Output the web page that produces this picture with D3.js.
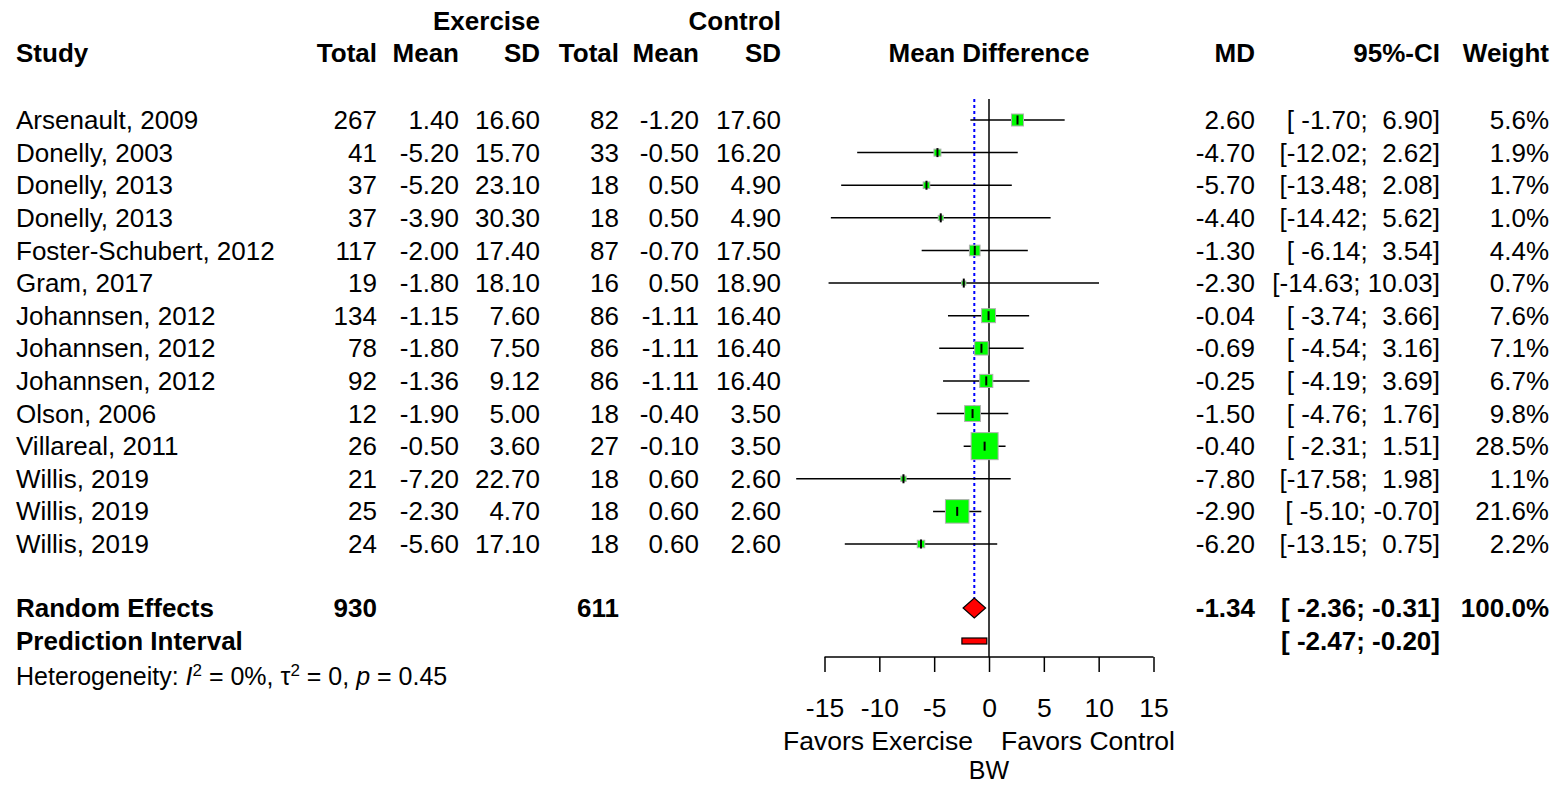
<!DOCTYPE html>
<html><head><meta charset="utf-8">
<script src="https://cdn.jsdelivr.net/npm/d3@7"></script>
<style>
body{margin:0;background:#fff;}
svg{font-family:"Liberation Sans",Arial,sans-serif;}
</style></head>
<body>
<svg id="chart" width="1558" height="785"></svg>
<script>
const studies = ["Arsenault, 2009","Donelly, 2003","Donelly, 2013","Donelly, 2013","Foster-Schubert, 2012","Gram, 2017","Johannsen, 2012","Johannsen, 2012","Johannsen, 2012","Olson, 2006","Villareal, 2011","Willis, 2019","Willis, 2019","Willis, 2019"];
const eTotal = [267,41,37,37,117,19,134,78,92,12,26,21,25,24];
const eMean = [1.40,-5.20,-5.20,-3.90,-2.00,-1.80,-1.15,-1.80,-1.36,-1.90,-0.50,-7.20,-2.30,-5.60];
const eSD = [16.60,15.70,23.10,30.30,17.40,18.10,7.60,7.50,9.12,5.00,3.60,22.70,4.70,17.10];
const cTotal = [82,33,18,18,87,16,86,86,86,18,27,18,18,18];
const cMean = [-1.20,-0.50,0.50,0.50,-0.70,0.50,-1.11,-1.11,-1.11,-0.40,-0.10,0.60,0.60,0.60];
const cSD = [17.60,16.20,4.90,4.90,17.50,18.90,16.40,16.40,16.40,3.50,3.50,2.60,2.60,2.60];
const md = [2.60,-4.70,-5.70,-4.40,-1.30,-2.30,-0.04,-0.69,-0.25,-1.50,-0.40,-7.80,-2.90,-6.20];
const lower = [-1.70,-12.02,-13.48,-14.42,-6.14,-14.63,-3.74,-4.54,-4.19,-4.76,-2.31,-17.58,-5.10,-13.15];
const upper = [6.90,2.62,2.08,5.62,3.54,10.03,3.66,3.16,3.69,1.76,1.51,1.98,-0.70,0.75];
const weight = [5.6,1.9,1.7,1.0,4.4,0.7,7.6,7.1,6.7,9.8,28.5,1.1,21.6,2.2];
const pooled = {label:"Random Effects", eTotal:930, cTotal:611, md:-1.34, lower:-2.36, upper:-0.31, weight:100.0};
const predInt = {label:"Prediction Interval", lower:-2.47, upper:-0.20};
const xTicks = [-15,-10,-5,0,5,10,15];

const svg = d3.select("#chart");
const x = d3.scaleLinear().domain([-15,15]).range([824.5,1153.5]);
const y = d3.scaleLinear().domain([0,studies.length-1]).range([120,544]);
const yRE = 608, yPI = 641;
const FS = 26;

const fmt2 = v => v.toFixed(2);
const ci = (l,u) => "[" + fmt2(l).padStart(6," ") + "; " + fmt2(u).padStart(5," ") + "]";

function txt(xp, yp, s, anchor, bold, size){
  return svg.append("text").attr("x",xp).attr("y",yp).attr("dy","0.35em")
    .attr("text-anchor",anchor||"start").attr("font-size",size||FS)
    .attr("font-weight",bold?"bold":"normal").attr("fill","#000")
    .style("white-space","pre").attr("xml:space","preserve").text(s);
}

// headers
txt(540,21,"Exercise","end",true);
txt(781,21,"Control","end",true);
const hy = 53;
txt(16,hy,"Study","start",true);
txt(377,hy,"Total","end",true);
txt(459,hy,"Mean","end",true);
txt(540,hy,"SD","end",true);
txt(619,hy,"Total","end",true);
txt(699,hy,"Mean","end",true);
txt(781,hy,"SD","end",true);
txt(x(0),hy,"Mean Difference","middle",true);
txt(1255,hy,"MD","end",true);
txt(1440,hy,"95%-CI","end",true);
txt(1549,hy,"Weight","end",true);

// study rows
studies.forEach((s,i)=>{
  const yy = y(i);
  txt(16,yy,s,"start");
  txt(377,yy,String(eTotal[i]),"end");
  txt(459,yy,fmt2(eMean[i]),"end");
  txt(540,yy,fmt2(eSD[i]),"end");
  txt(619,yy,String(cTotal[i]),"end");
  txt(699,yy,fmt2(cMean[i]),"end");
  txt(781,yy,fmt2(cSD[i]),"end");
  txt(1255,yy,fmt2(md[i]),"end");
  txt(1440,yy,ci(lower[i],upper[i]),"end");
  txt(1549,yy,weight[i].toFixed(1)+"%","end");
});

// pooled rows text
txt(16,yRE,pooled.label,"start",true);
txt(377,yRE,String(pooled.eTotal),"end",true);
txt(619,yRE,String(pooled.cTotal),"end",true);
txt(1255,yRE,fmt2(pooled.md),"end",true);
txt(1440,yRE,ci(pooled.lower,pooled.upper),"end",true);
txt(1549,yRE,pooled.weight.toFixed(1)+"%","end",true);
txt(16,yPI,predInt.label,"start",true);
txt(1440,yPI,ci(predInt.lower,predInt.upper),"end",true);

// heterogeneity
const het = svg.append("text").attr("x",16).attr("y",676).attr("dy","0.35em").attr("font-size",25).attr("fill","#000")
  .style("white-space","pre");
het.append("tspan").text("Heterogeneity: ");
het.append("tspan").attr("font-style","italic").text("I");
het.append("tspan").attr("font-size",17).attr("dy","-9").text("2");
het.append("tspan").attr("dy","9").text(" = 0%, τ");
het.append("tspan").attr("font-size",17).attr("dy","-9").text("2");
het.append("tspan").attr("dy","9").text(" = 0, ");
het.append("tspan").attr("font-style","italic").text("p");
het.append("tspan").text(" = 0.45");

// reference lines
const yTop = 99, yAxis = 657;
svg.append("line").attr("x1",x(0)).attr("x2",x(0)).attr("y1",yTop).attr("y2",yAxis)
  .attr("stroke","#000").attr("stroke-width",1.5);
svg.append("line").attr("x1",x(pooled.md)).attr("x2",x(pooled.md)).attr("y1",yTop).attr("y2",yRE-10)
  .attr("stroke","#0000ff").attr("stroke-width",2).attr("stroke-dasharray","3,3");

// CI lines, squares, ticks
const rows = studies.map((s,i)=>({i, md:md[i], lo:lower[i], hi:upper[i], w:weight[i]}));
svg.append("g").selectAll("line").data(rows).join("line")
  .attr("x1",d=>x(d.lo)).attr("x2",d=>x(d.hi)).attr("y1",d=>y(d.i)).attr("y2",d=>y(d.i))
  .attr("stroke","#000").attr("stroke-width",1.5);
const side = d => 5.06*Math.sqrt(d.w);
svg.append("g").selectAll("rect").data(rows).join("rect")
  .attr("x",d=>x(d.md)-side(d)/2).attr("y",d=>y(d.i)-side(d)/2)
  .attr("width",side).attr("height",side)
  .attr("fill","#00ff00").attr("stroke","#b0b0b0").attr("stroke-width",1);
svg.append("g").selectAll("line").data(rows).join("line")
  .attr("x1",d=>x(d.md)).attr("x2",d=>x(d.md)).attr("y1",d=>y(d.i)-4.5).attr("y2",d=>y(d.i)+4.5)
  .attr("stroke","#000").attr("stroke-width",2);

// diamond
const dh = 10;
svg.append("path").attr("d",`M${x(pooled.lower)},${yRE}L${x(pooled.md)},${yRE-dh}L${x(pooled.upper)},${yRE}L${x(pooled.md)},${yRE+dh}Z`)
  .attr("fill","#ff0000").attr("stroke","#000").attr("stroke-width",1.2);
// prediction interval
svg.append("rect").attr("x",x(predInt.lower)).attr("y",yPI-3).attr("width",x(predInt.upper)-x(predInt.lower)).attr("height",6)
  .attr("fill","#ff0000").attr("stroke","#000").attr("stroke-width",1.2);

// axis
const axis = d3.axisBottom(x).tickValues(xTicks).tickSize(15).tickPadding(20).tickFormat(d => String(d));
const ag = svg.append("g").attr("transform",`translate(0,${yAxis})`).call(axis);
ag.select(".domain").attr("stroke","#000").attr("stroke-width",1.5).attr("d",`M${x(-15)},0H${x(15)}`);
ag.selectAll(".tick line").attr("stroke","#000").attr("stroke-width",1.5);
ag.selectAll(".tick text").attr("font-size",26.5).attr("font-family","Liberation Sans, Arial, sans-serif").attr("fill","#000")
  .attr("y",null).attr("dy",null).attr("transform",`translate(0,${708-yAxis})`).attr("dominant-baseline","central");

txt(878,741,"Favors Exercise","middle",false,26.5);
txt(1088,741,"Favors Control","middle",false,26.5);
txt(x(0),770,"BW","middle",false,25);
</script>
</body></html>
